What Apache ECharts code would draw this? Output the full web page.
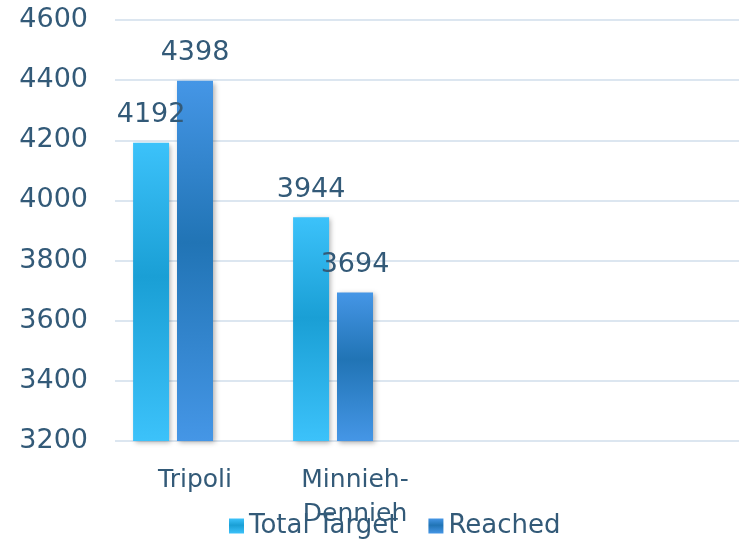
<!DOCTYPE html>
<html>
<head>
<meta charset="utf-8">
<script src="https://cdn.jsdelivr.net/npm/echarts@6/dist/echarts.min.js"></script>
<style>
  html, body { margin: 0; padding: 0; background: #fff; }
  #chart { width: 739px; height: 542px; }
</style>
</head>
<body>
<div id="chart"></div>
<script>
const categories = ['Tripoli', 'Minnieh-Dennieh', '', '']
const totalTarget = [4192, 3944, null, null]
const reached = [4398, 3694, null, null]
const spare = [null, null, null, null]
const yTicks = { min: 3200, max: 4600, interval: 200 }

const txt = '#335a78'
const font = 'DejaVu Sans'

function vGrad (edge, mid) {
  return new echarts.graphic.LinearGradient(0, 0, 0, 1, [
    { offset: 0, color: edge },
    { offset: 0.45, color: mid },
    { offset: 1, color: edge }
  ])
}

const barShadow = {
  shadowColor: 'rgba(0,0,0,0.3)',
  shadowBlur: 5,
  shadowOffsetX: 2,
  shadowOffsetY: 2
}

const labelStyle = {
  show: true,
  position: 'top',
  distance: 14,
  color: txt,
  fontFamily: font,
  fontSize: 27
}

const chart = echarts.init(document.getElementById('chart'))
chart.setOption({
  animation: false,
  grid: { left: 115, top: 20, width: 640, bottom: 101, outerBoundsMode: 'none', containLabel: false },
  legend: {
    data: ['Total Target', 'Reached'],
    left: 224,
    top: 508,
    itemWidth: 15,
    itemHeight: 15,
    itemGap: 30,
    icon: 'rect',
    textStyle: { color: txt, fontFamily: font, fontSize: 26 }
  },
  xAxis: {
    type: 'category',
    data: categories,
    axisLine: { show: false },
    axisTick: { show: false },
    axisLabel: {
      color: txt,
      fontFamily: font,
      fontSize: 25,
      margin: 22,
      lineHeight: 34,
      formatter: v => v.replace('-', '-\n')
    }
  },
  yAxis: {
    type: 'value',
    min: yTicks.min,
    max: yTicks.max,
    interval: yTicks.interval,
    axisLine: { show: false },
    axisTick: { show: false },
    axisLabel: { color: txt, fontFamily: font, fontSize: 27, margin: 27, formatter: v => String(v) },
    splitLine: { lineStyle: { color: '#dce6f0', width: 2 } }
  },
  series: [
    {
      name: 'Total Target',
      type: 'bar',
      data: totalTarget,
      barWidth: 36,
      barGap: '22%',
      itemStyle: Object.assign({ color: vGrad('#3cc2fa', '#1a9fd5') }, barShadow),
      label: labelStyle
    },
    {
      name: 'Reached',
      type: 'bar',
      data: reached,
      barWidth: 36,
      barGap: '22%',
      itemStyle: Object.assign({ color: vGrad('#4596e6', '#2174b5') }, barShadow),
      label: labelStyle
    },
    {
      name: 'spare',
      type: 'bar',
      data: spare,
      barWidth: 36,
      barGap: '22%'
    }
  ]
})
</script>
</body>
</html>
